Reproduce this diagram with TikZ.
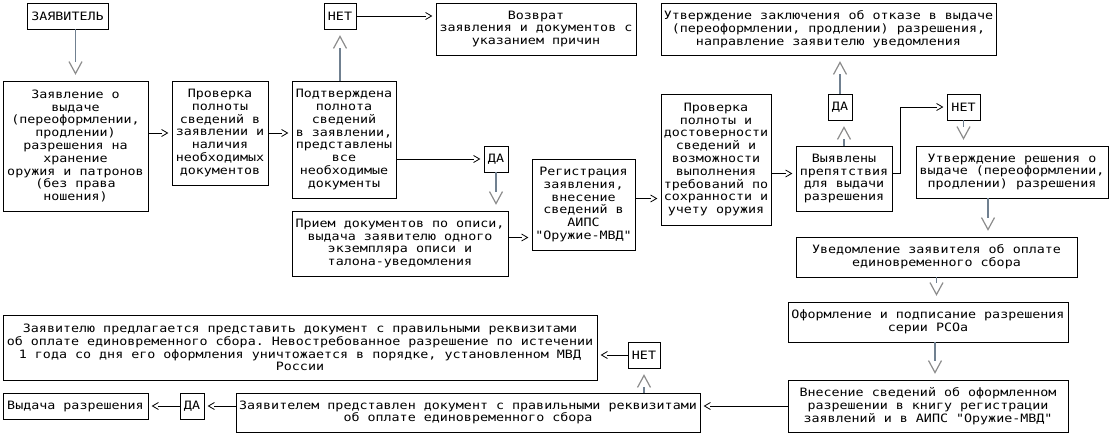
\documentclass[tikz,border=0pt]{standalone}
\usepackage{fontspec}
\setmonofont[FakeStretch=1.16]{DejaVu Sans Mono}
\usetikzlibrary{arrows.meta}

\definecolor{strgray}{RGB}{112,128,144}
\definecolor{vgray}{RGB}{140,140,140}

% open tip, the line stops at its back
\pgfdeclarearrow{
  name = Vgap,
  parameters = {\the\pgfarrowlength,\the\pgfarrowwidth,\the\pgfarrowlinewidth},
  setup code = {
    \pgfarrowssettipend{0pt}
    \pgfarrowssetlineend{-\pgfarrowlength}
    \pgfarrowssetbackend{-\pgfarrowlength}
    \pgfarrowshullpoint{0pt}{0pt}
    \pgfarrowsupperhullpoint{-\pgfarrowlength}{.5\pgfarrowwidth}
    \pgfarrowssavethe\pgfarrowlength
    \pgfarrowssavethe\pgfarrowwidth
  },
  drawing code = {
    \pgfpathmoveto{\pgfqpoint{-\pgfarrowlength}{.5\pgfarrowwidth}}
    \pgfpathlineto{\pgfqpoint{0pt}{0pt}}
    \pgfpathlineto{\pgfqpoint{-\pgfarrowlength}{-.5\pgfarrowwidth}}
    \pgfusepathqstroke
  },
  defaults = {length=12pt, width=13pt}
}

\tikzset{
  blok/.style={draw, line width=0.9pt, inner sep=0pt, align=center,
    font=\ttfamily\fontsize{11.5}{12.8}\selectfont},
  vstrelka/.style={draw=strgray, line width=1.2pt,
    -{Vgap[length=12pt,width=13pt,line width=0.8pt,color=vgray]}, shorten >=7pt},
  hstrelka/.style={line width=0.8pt, -{Vgap[length=6pt,width=7pt]}, shorten >=4pt}
}

\begin{document}
\begin{tikzpicture}[x=1pt,y=-1pt]
			\useasboundingbox[fill=white] (0,0) rectangle (1115,439);

			% top row
			\node[blok, minimum width=81, minimum height=26] (zayav) at (67.5,16) {ЗАЯВИТЕЛЬ};
			\node[blok, minimum width=145, minimum height=130] (zayavl) at (75.5,146) {Заявление о\\выдаче\\(переоформлении,\\продлении)\\разрешения на\\хранение\\оружия и патронов\\(без права\\ношения)};
			\node[blok, minimum width=96, minimum height=104] (prov1) at (220,133) {Проверка\\полноты\\сведений в\\заявлении и\\наличия\\необходимых\\документов};
			\node[blok, minimum width=104, minimum height=117] (podtv) at (344,139.5) {Подтверждена\\полнота\\сведений\\в заявлении,\\представлены\\все\\необходимые\\документы};
			\node[blok, minimum width=32, minimum height=26] (net1) at (340,16) {НЕТ};
			\node[blok, minimum width=200, minimum height=52] (vozv) at (536,29) {Возврат\\заявления и документов с\\указанием причин};
			\node[blok, minimum width=24, minimum height=26] (da1) at (496,159) {ДА};
			\node[blok, minimum width=216, minimum height=65] (priem) at (400,243.5) {Прием документов по описи,\\выдача заявителю одного\\экземпляра описи и\\талона-уведомления};
			\node[blok, minimum width=103, minimum height=91] (reg) at (583.5,204.5) {Регистрация\\заявления,\\внесение\\сведений в\\АИПС\\"Оружие-МВД"};
			\node[blok, minimum width=110, minimum height=131] (prov2) at (716,159.5) {Проверка\\полноты и\\достоверности\\сведений и\\возможности\\выполнения\\требований по\\сохранности и\\учету оружия};
			\node[blok, minimum width=335, minimum height=52] (otkaz) at (828.5,29) {Утверждение заключения об отказе в выдаче\\(переоформлении, продлении) разрешения,\\направление заявителю уведомления};
			\node[blok, minimum width=96, minimum height=65] (vyyav) at (844,178.5) {Выявлены\\препятствия\\для выдачи\\разрешения};
			\node[blok, minimum width=24, minimum height=26] (da2) at (840,107) {ДА};
			\node[blok, minimum width=33, minimum height=26] (net2) at (963.5,107) {НЕТ};
			\node[blok, minimum width=192, minimum height=52] (resh) at (1012,172) {Утверждение решения о\\выдаче (переоформлении,\\продлении) разрешения};

			% right column
			\node[blok, minimum width=281, minimum height=40] (uved) at (936.5,257) {Уведомление заявителя об оплате\\единовременного сбора};
			\node[blok, minimum width=280, minimum height=40] (oform) at (928,322) {Оформление и подписание разрешения\\серии РСОа};
			\node[blok, minimum width=280, minimum height=52] (vnes) at (928,406) {Внесение сведений об оформленном\\разрешении в книгу регистрации\\заявлений и в АИПС "Оружие-МВД"};

			% bottom row
			\node[blok, minimum width=464, minimum height=39] (predst) at (468,412.5) {Заявителем представлен документ с правильными реквизитами\\об оплате единовременного сбора};
			\node[blok, minimum width=24, minimum height=26] (da3) at (192,406) {ДА};
			\node[blok, minimum width=145, minimum height=26] (vyd) at (75.5,406) {Выдача разрешения};
			\node[blok, minimum width=32, minimum height=26] (net3) at (644,355) {НЕТ};
			\node[blok, minimum width=594, minimum height=65] (predl) at (300,347.5) {Заявителю предлагается представить документ с правильными реквизитами\\об оплате единовременного сбора. Невостребованное разрешение по истечении\\1 года со дня его оформления уничтожается в порядке, установленном МВД\\России};

			% connectors
			\draw[vstrelka] (zayav.south -| zayavl.north) -- (zayavl.north);
			\draw[hstrelka] (prov1.west -| zayavl.east) -- (prov1.west);
			\draw[hstrelka] (prov1.east) -- (prov1.east -| podtv.west);
			\draw[vstrelka] (podtv.north -| net1.south) -- (net1.south);
			\draw[hstrelka] (net1.east) -- (net1.east -| vozv.west);
			\draw[hstrelka] (da1.west -| podtv.east) -- (da1.west);
			\draw[vstrelka] (da1.south) -- (da1.south |- priem.north);
			\draw[hstrelka] ([yshift=6]priem.east) -- ([yshift=6]priem.east -| reg.west);
			\draw[hstrelka] ([yshift=6]reg.east) -- ([yshift=6]reg.east -| prov2.west);
			\draw[hstrelka] ([yshift=5]vyyav.west -| prov2.east) -- ([yshift=5]vyyav.west);
			\draw[vstrelka] (vyyav.north) -- (vyyav.north |- da2.south);
			\draw[vstrelka] (da2.north) -- (da2.north |- otkaz.south);
			\draw[hstrelka] ([yshift=5]vyyav.east) -- ++(8,0) |- (net2.west);
			\draw[vstrelka] (net2.south) -- (net2.south |- resh.north);
			\draw[vstrelka] ([xshift=-24]resh.south) -- ([xshift=-24]resh.south |- uved.north);
			\draw[vstrelka] (uved.south) -- (uved.south |- oform.north);
			\draw[vstrelka] ([xshift=7]oform.south) -- ([xshift=7]oform.south |- vnes.north);
			\draw[hstrelka] (vnes.west) -- (vnes.west -| predst.east);
			\draw[vstrelka] (predst.north -| net3.south) -- (net3.south);
			\draw[hstrelka] (net3.west) -- (net3.west -| predl.east);
			\draw[hstrelka] (da3.east -| predst.west) -- (da3.east);
			\draw[hstrelka] (da3.west) -- (da3.west -| vyd.east);
		\end{tikzpicture}
\end{document}
